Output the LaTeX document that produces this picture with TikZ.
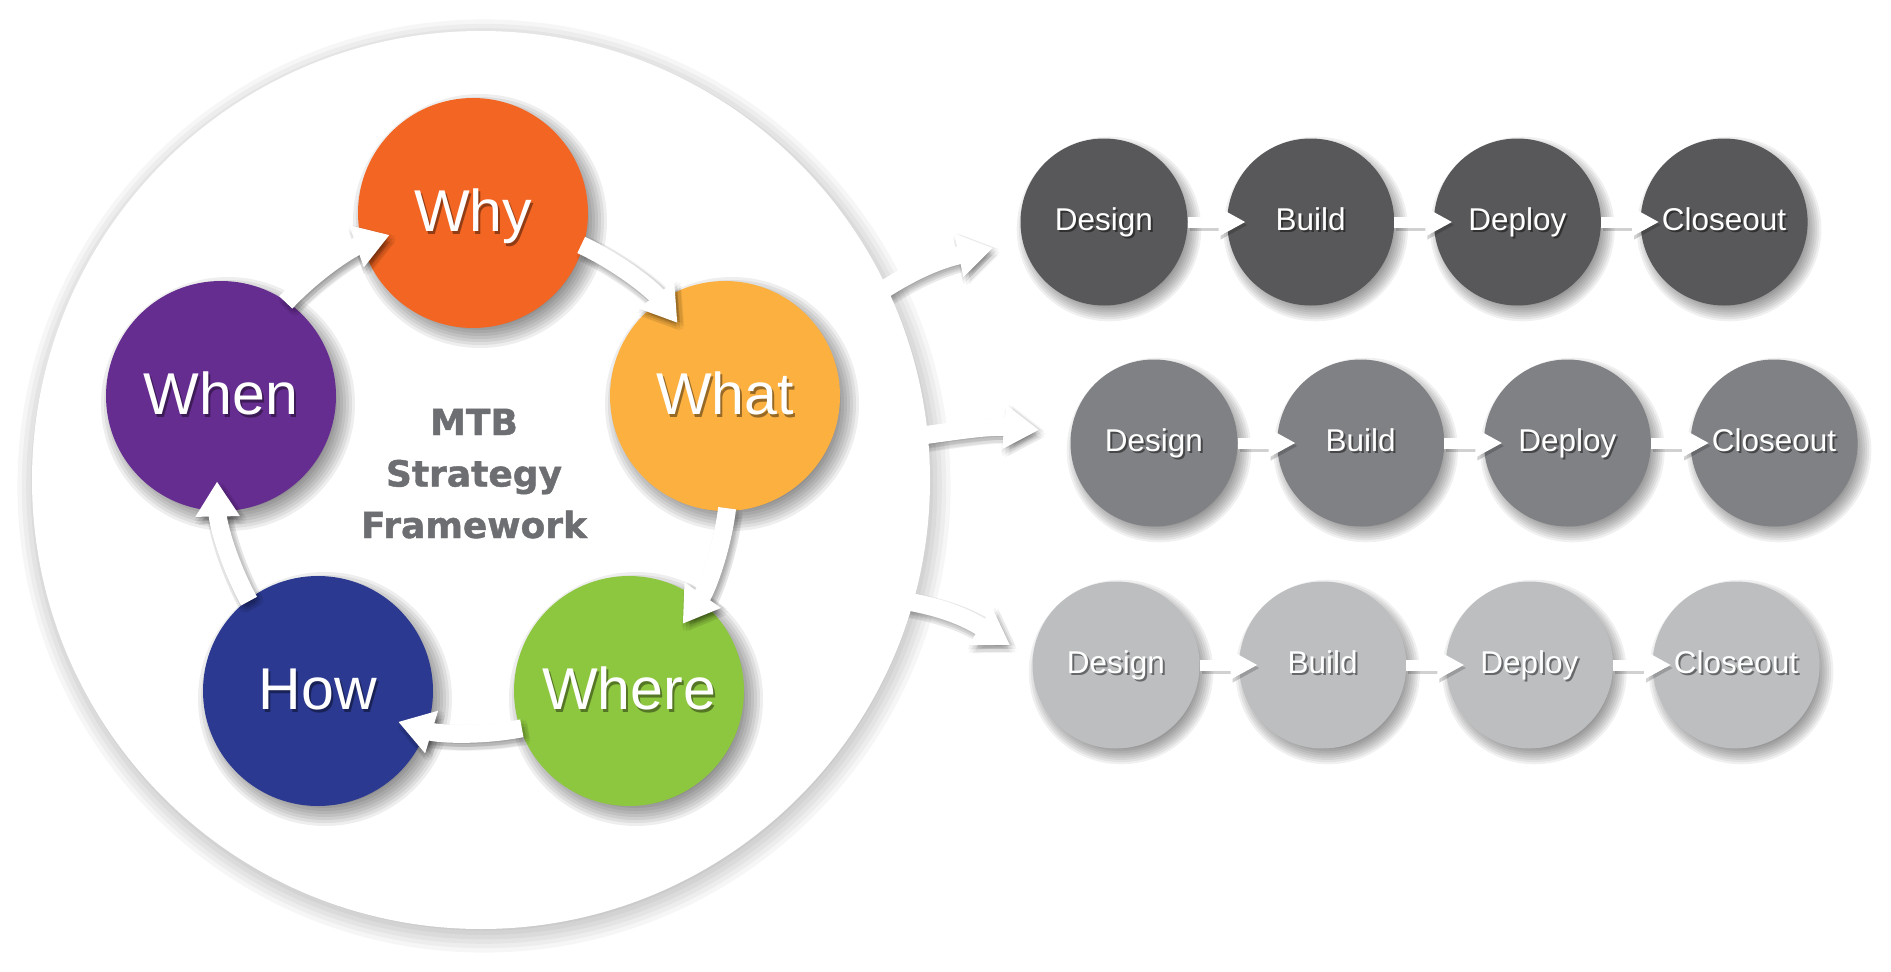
\documentclass[tikz,border=0pt]{standalone}
\usepackage{fontspec}
\setmainfont{Liberation Sans}
\newfontfamily\ctrfont[FakeBold=1.2]{DejaVu Sans Bold}
\usetikzlibrary{arrows.meta,calc}
\definecolor{cwhy}{HTML}{F26522}
\definecolor{cwhat}{HTML}{FBB040}
\definecolor{cwhere}{HTML}{8DC63F}
\definecolor{chow}{HTML}{2B3990}
\definecolor{cwhen}{HTML}{662D91}
\definecolor{rowa}{HTML}{58585A}
\definecolor{rowb}{HTML}{808184}
\definecolor{rowc}{HTML}{BCBEC0}
\definecolor{ctrtext}{HTML}{6D6E71}
\newcommand\softdisc[5]{%
  \foreach \i in {1,...,10}{\fill[black,opacity=#5] (#1,#2) circle[radius={#3+#4-#4*\i/5}];}}
\newcommand\arrowshadow[3]{%
  \foreach \dx/\dy in {3/-4,7/-4,-1/-4,3/0,3/-8,6/-1,0/-1,6/-7,0/-7}{%
    \draw[#1,castshadow=#3,transform canvas={shift={(\dx pt,\dy pt)}}] #2;}}
\tikzset{
  colcirc/.style={circle,inner sep=0pt,minimum size=230pt,fill=#1},
  graycirc/.style={circle,inner sep=0pt,minimum size=167pt,fill=#1},
  bigword/.style={anchor=base,inner sep=0pt,font=\fontsize{59}{60}\selectfont},
  stepword/.style={anchor=base,inner sep=0pt,font=\fontsize{31.5}{32}\selectfont},
  ctrword/.style={anchor=base,inner sep=0pt,text=ctrtext,font=\ctrfont\fontsize{36}{40}\selectfont},
  wideshaft/.style={line width=18pt,-{Triangle[width=42pt,length=35pt]}},
  thinshaft/.style={line width=11pt,-{Triangle[width=27pt,length=27pt]}},
  castshadow/.style={black,opacity=#1},
}
\begin{document}
\begin{tikzpicture}[x=1pt,y=1pt]
\useasboundingbox (0,0) rectangle (1891,-972);
\fill[white] (0,0) rectangle (1891,-972);
% shadow of the big circle
\softdisc{484}{-486}{449}{22}{0.035}
% arrows leaving the big circle
\coordinate (b1s) at (874,-296); \coordinate (b1t) at (993,-248);
\coordinate (b2s) at (912,-437); \coordinate (b2t) at (1039,-430);
\coordinate (b3s) at (898,-600); \coordinate (b3t) at (1010,-645);
\foreach \sa/\ta/\oa/\ia in {b1s/b1t/34/-168, b2s/b2t/8/175, b3s/b3t/-8/148}{
  \arrowshadow{wideshaft}{(\sa) to[out=\oa,in=\ia] (\ta)}{0.045}
  \draw[wideshaft,white] (\sa) to[out=\oa,in=\ia] (\ta);
}
% big white circle
\node[circle,inner sep=0pt,minimum size=898pt,fill=white] (frame) at (481,-480) {};
% coloured circles
\coordinate (C) at (473,-477);
\foreach \x/\y in {473/213,725/396,629/691,318/691,221/396}{
  \softdisc{\x+7}{-\y-8}{115}{15}{0.065}
}
\foreach \x/\y/\c/\nm in {473/213/cwhy/why,725/396/cwhat/what,629/691/cwhere/where,318/691/chow/how,221/396/cwhen/when}{
  \node[colcirc=\c] (\nm) at (\x,-\y) {};
}
% arrows of the cycle
\foreach \st/\en/\nm in {65/37/p1,-7/-35/p2,-79/-107/p3,-151/-179/p4,137/109/p5}{
  \coordinate (\nm) at ($(C)+(\st:256)$);
  \arrowshadow{wideshaft}{(\nm) arc[start angle=\st,end angle=\en,radius=256]}{0.05}
  \draw[wideshaft,white] (\nm) arc[start angle=\st,end angle=\en,radius=256];
}
% words in the coloured circles
\foreach \x/\y/\w/\nm in {473/213/Why/why,725/396/What/what,629/691/Where/where,318/691/How/how,221/396/When/when}{
  \node[bigword,text=black,opacity=0.4] (\nm-s) at (\x+2,-\y-21) {\w};
  \node[bigword,text=white] (\nm-t) at (\x,-\y-18) {\w};
}
% centre title
\node[ctrword] (t1) at (474,-435) {MTB};
\node[ctrword] (t2) at (474,-486.5) {Strategy};
\node[ctrword] (t3) at (474,-538) {Framework};
% rows of grey circles
\foreach \row/\yy/\xs in {1/222/1104,2/443/1154,3/665/1116}{
  \foreach \k in {0,1,2,3}{
    \pgfmathsetmacro\cx{\xs+206.7*\k}
    \softdisc{\cx+5}{-\yy-7}{83.5}{11}{0.06}
  }
}
\foreach \row/\yy/\xs/\col in {1/222/1104/rowa,2/443/1154/rowb,3/665/1116/rowc}{
  \foreach \k/\w in {0/Design,1/Build,2/Deploy,3/Closeout}{
    \pgfmathsetmacro\cx{\xs+206.7*\k}
    \node[graycirc=\col] (r\row c\k) at (\cx,-\yy) {};
  }
  \foreach \k in {0,1,2}{
    \draw[thinshaft,castshadow=0.18,transform canvas={shift={(2pt,-3pt)}}] (r\row c\k.east) -- ++(58,0);
    \draw[thinshaft,white] (r\row c\k.east) -- ++(58,0);
  }
  \foreach \k/\w in {0/Design,1/Build,2/Deploy,3/Closeout}{
    \pgfmathsetmacro\cx{\xs+206.7*\k}
    \node[stepword,text=black,opacity=0.45] (r\row w\k s) at (\cx+2,-\yy-10) {\w};
    \node[stepword,text=white] (r\row w\k) at (\cx,-\yy-8) {\w};
  }
}
\end{tikzpicture}
\end{document}
